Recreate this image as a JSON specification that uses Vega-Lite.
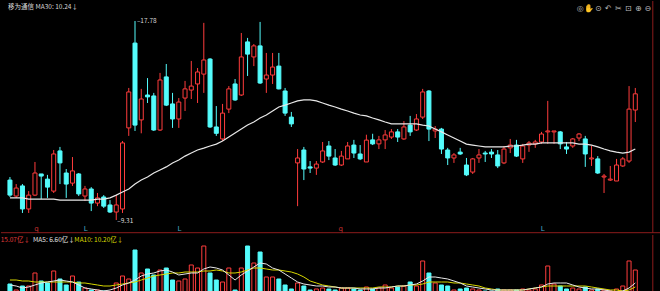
{
 "$schema": "https://vega.github.io/schema/vega-lite/v6.json",
 "background": "#000000",
 "padding": 0,
 "spacing": 0,
 "config": {"view": {"stroke": null}, "text": {"font": "Noto Sans CJK SC"}},
 "datasets": {
  "k": [
   {"i":0,"o":11.01,"h":11.14,"l":10.29,"c":10.37,"v":4.25,"ma":10.25,"m5":3.83,"m10":5.95},
   {"i":1,"o":10.33,"h":10.84,"l":10.25,"c":10.67,"v":1.70,"ma":10.25,"m5":3.40,"m10":5.95},
   {"i":2,"o":10.76,"h":10.84,"l":9.61,"c":9.78,"v":3.40,"ma":10.25,"m5":2.55,"m10":5.53},
   {"i":3,"o":9.78,"h":10.54,"l":9.61,"c":10.37,"v":3.40,"ma":10.20,"m5":2.98,"m10":5.53},
   {"i":4,"o":10.37,"h":11.78,"l":10.33,"c":11.31,"v":8.93,"ma":10.20,"m5":3.83,"m10":5.10},
   {"i":5,"o":11.27,"h":11.27,"l":10.20,"c":11.18,"v":5.53,"ma":10.20,"m5":4.68,"m10":5.10},
   {"i":6,"o":11.05,"h":11.23,"l":10.25,"c":10.71,"v":4.68,"ma":10.20,"m5":5.10,"m10":5.10},
   {"i":7,"o":10.54,"h":12.29,"l":10.46,"c":12.12,"v":9.78,"ma":10.20,"m5":5.53,"m10":5.10},
   {"i":8,"o":12.25,"h":12.42,"l":10.84,"c":11.74,"v":6.38,"ma":10.16,"m5":5.95,"m10":5.10},
   {"i":9,"o":11.31,"h":11.48,"l":10.25,"c":10.84,"v":3.83,"ma":10.16,"m5":5.53,"m10":5.10},
   {"i":10,"o":10.88,"h":11.99,"l":10.76,"c":11.40,"v":7.65,"ma":10.16,"m5":5.10,"m10":5.10},
   {"i":11,"o":11.27,"h":11.31,"l":10.33,"c":10.42,"v":5.10,"ma":10.16,"m5":3.83,"m10":4.68},
   {"i":12,"o":10.33,"h":10.76,"l":10.12,"c":10.63,"v":2.55,"ma":10.16,"m5":2.55,"m10":4.68},
   {"i":13,"o":10.63,"h":10.71,"l":9.69,"c":10.03,"v":1.70,"ma":10.16,"m5":2.13,"m10":4.25},
   {"i":14,"o":10.03,"h":10.46,"l":9.90,"c":10.25,"v":1.70,"ma":10.20,"m5":1.70,"m10":3.83},
   {"i":15,"o":10.29,"h":10.37,"l":9.82,"c":9.90,"v":1.28,"ma":10.20,"m5":1.28,"m10":3.40},
   {"i":16,"o":9.95,"h":10.16,"l":9.61,"c":9.65,"v":0.85,"ma":10.25,"m5":1.70,"m10":3.40},
   {"i":17,"o":9.65,"h":10.37,"l":9.31,"c":9.95,"v":4.68,"ma":10.37,"m5":2.55,"m10":3.83},
   {"i":18,"o":9.78,"h":12.67,"l":9.61,"c":12.59,"v":7.65,"ma":10.50,"m5":3.83,"m10":4.25},
   {"i":19,"o":13.23,"h":14.93,"l":12.89,"c":14.76,"v":6.38,"ma":10.63,"m5":4.68,"m10":4.68},
   {"i":20,"o":16.84,"h":17.78,"l":13.10,"c":13.35,"v":18.70,"ma":10.84,"m5":5.95,"m10":5.10},
   {"i":21,"o":13.57,"h":14.89,"l":13.00,"c":14.46,"v":8.93,"ma":11.01,"m5":7.65,"m10":5.95},
   {"i":22,"o":14.63,"h":15.35,"l":14.29,"c":14.55,"v":10.63,"ma":11.14,"m5":8.50,"m10":6.80},
   {"i":23,"o":14.59,"h":14.72,"l":13.10,"c":13.14,"v":8.08,"ma":11.31,"m5":8.93,"m10":7.65},
   {"i":24,"o":13.14,"h":15.57,"l":13.10,"c":15.27,"v":10.20,"ma":11.44,"m5":9.78,"m10":8.08},
   {"i":25,"o":15.40,"h":15.95,"l":14.16,"c":14.20,"v":11.05,"ma":11.57,"m5":10.20,"m10":8.50},
   {"i":26,"o":14.25,"h":14.72,"l":13.23,"c":13.61,"v":5.95,"ma":11.74,"m5":9.35,"m10":8.93},
   {"i":27,"o":13.61,"h":14.50,"l":13.23,"c":14.33,"v":5.53,"ma":11.86,"m5":8.08,"m10":8.93},
   {"i":28,"o":14.50,"h":15.23,"l":13.95,"c":14.89,"v":6.38,"ma":12.03,"m5":8.50,"m10":9.35},
   {"i":29,"o":14.84,"h":16.08,"l":14.46,"c":15.01,"v":12.33,"ma":12.16,"m5":8.93,"m10":9.35},
   {"i":30,"o":15.10,"h":15.78,"l":14.29,"c":15.61,"v":11.05,"ma":12.29,"m5":8.93,"m10":9.35},
   {"i":31,"o":15.52,"h":17.70,"l":14.72,"c":16.12,"v":20.40,"ma":12.37,"m5":10.63,"m10":9.78},
   {"i":32,"o":16.16,"h":16.20,"l":13.23,"c":13.27,"v":8.93,"ma":12.46,"m5":11.48,"m10":9.78},
   {"i":33,"o":13.27,"h":14.16,"l":12.89,"c":13.00,"v":5.95,"ma":12.54,"m5":11.05,"m10":10.20},
   {"i":34,"o":12.76,"h":14.25,"l":12.67,"c":13.86,"v":5.10,"ma":12.67,"m5":10.20,"m10":9.78},
   {"i":35,"o":14.03,"h":15.01,"l":13.86,"c":14.89,"v":11.05,"ma":12.84,"m5":8.08,"m10":8.93},
   {"i":36,"o":15.10,"h":15.31,"l":14.38,"c":14.42,"v":1.70,"ma":13.01,"m5":5.95,"m10":8.93},
   {"i":37,"o":14.63,"h":17.27,"l":14.59,"c":16.25,"v":11.05,"ma":13.18,"m5":8.08,"m10":9.35},
   {"i":38,"o":16.89,"h":17.06,"l":15.44,"c":16.37,"v":20.40,"ma":13.35,"m5":9.78,"m10":10.20},
   {"i":39,"o":16.25,"h":16.80,"l":15.86,"c":16.72,"v":13.18,"ma":13.48,"m5":11.48,"m10":11.05},
   {"i":40,"o":16.72,"h":17.74,"l":15.10,"c":15.14,"v":17.85,"ma":13.65,"m5":13.18,"m10":11.05},
   {"i":41,"o":15.31,"h":16.42,"l":14.72,"c":15.48,"v":7.23,"ma":13.78,"m5":12.75,"m10":10.63},
   {"i":42,"o":15.48,"h":16.42,"l":15.10,"c":15.82,"v":7.23,"ma":13.95,"m5":11.05,"m10":10.20},
   {"i":43,"o":15.86,"h":16.42,"l":14.87,"c":14.89,"v":6.38,"ma":14.12,"m5":10.20,"m10":10.20},
   {"i":44,"o":14.80,"h":14.93,"l":13.74,"c":13.86,"v":3.83,"ma":14.20,"m5":8.50,"m10":9.78},
   {"i":45,"o":13.69,"h":13.91,"l":13.27,"c":13.40,"v":2.13,"ma":14.29,"m5":6.80,"m10":9.35},
   {"i":46,"o":11.74,"h":12.33,"l":9.90,"c":11.95,"v":4.68,"ma":14.38,"m5":5.10,"m10":8.50},
   {"i":47,"o":12.29,"h":12.42,"l":11.01,"c":11.48,"v":3.40,"ma":14.42,"m5":4.25,"m10":7.23},
   {"i":48,"o":11.57,"h":11.82,"l":11.31,"c":11.52,"v":1.70,"ma":14.42,"m5":3.83,"m10":5.53},
   {"i":49,"o":11.52,"h":11.82,"l":11.23,"c":11.69,"v":2.13,"ma":14.38,"m5":3.40,"m10":4.68},
   {"i":50,"o":11.78,"h":12.63,"l":11.74,"c":12.25,"v":2.55,"ma":14.29,"m5":3.40,"m10":3.83},
   {"i":51,"o":12.46,"h":12.67,"l":11.86,"c":12.03,"v":2.13,"ma":14.20,"m5":2.98,"m10":3.40},
   {"i":52,"o":11.95,"h":12.33,"l":11.61,"c":11.65,"v":1.70,"ma":14.12,"m5":2.98,"m10":2.98},
   {"i":53,"o":11.65,"h":12.25,"l":11.61,"c":12.03,"v":2.55,"ma":14.03,"m5":2.55,"m10":2.55},
   {"i":54,"o":11.91,"h":12.63,"l":11.91,"c":12.46,"v":2.55,"ma":13.95,"m5":2.55,"m10":2.55},
   {"i":55,"o":12.50,"h":12.72,"l":11.95,"c":12.16,"v":2.13,"ma":13.86,"m5":2.55,"m10":2.55},
   {"i":56,"o":12.12,"h":12.50,"l":11.86,"c":11.91,"v":1.70,"ma":13.78,"m5":2.13,"m10":2.55},
   {"i":57,"o":11.78,"h":12.94,"l":11.78,"c":12.71,"v":2.98,"ma":13.74,"m5":2.13,"m10":2.55},
   {"i":58,"o":12.72,"h":12.98,"l":12.50,"c":12.55,"v":2.13,"ma":13.65,"m5":2.13,"m10":2.55},
   {"i":59,"o":12.55,"h":12.89,"l":12.33,"c":12.72,"v":2.55,"ma":13.57,"m5":2.55,"m10":2.98},
   {"i":60,"o":12.72,"h":13.14,"l":12.33,"c":12.93,"v":3.83,"ma":13.48,"m5":2.55,"m10":2.98},
   {"i":61,"o":12.84,"h":13.18,"l":12.76,"c":13.06,"v":2.55,"ma":13.40,"m5":2.98,"m10":2.98},
   {"i":62,"o":13.06,"h":13.18,"l":12.63,"c":12.84,"v":2.98,"ma":13.40,"m5":3.40,"m10":3.40},
   {"i":63,"o":12.76,"h":13.52,"l":12.72,"c":13.27,"v":3.40,"ma":13.40,"m5":3.40,"m10":3.40},
   {"i":64,"o":13.35,"h":13.74,"l":12.89,"c":13.06,"v":5.10,"ma":13.40,"m5":3.83,"m10":3.83},
   {"i":65,"o":13.14,"h":13.82,"l":13.10,"c":13.61,"v":3.40,"ma":13.40,"m5":4.25,"m10":3.83},
   {"i":66,"o":13.69,"h":14.89,"l":13.61,"c":14.76,"v":14.03,"ma":13.35,"m5":5.53,"m10":4.25},
   {"i":67,"o":14.80,"h":14.84,"l":12.67,"c":13.18,"v":8.93,"ma":13.31,"m5":7.23,"m10":5.10},
   {"i":68,"o":13.10,"h":13.31,"l":12.80,"c":13.18,"v":4.68,"ma":13.18,"m5":7.23,"m10":5.10},
   {"i":69,"o":13.18,"h":13.23,"l":12.12,"c":12.33,"v":3.83,"ma":13.06,"m5":6.80,"m10":5.10},
   {"i":70,"o":12.29,"h":12.38,"l":11.65,"c":11.95,"v":3.40,"ma":12.93,"m5":6.38,"m10":5.10},
   {"i":71,"o":11.95,"h":12.16,"l":11.74,"c":12.08,"v":1.70,"ma":12.80,"m5":5.53,"m10":4.68},
   {"i":72,"o":12.20,"h":12.38,"l":12.08,"c":12.12,"v":2.13,"ma":12.67,"m5":4.68,"m10":4.68},
   {"i":73,"o":11.65,"h":11.95,"l":11.18,"c":11.23,"v":2.55,"ma":12.54,"m5":3.40,"m10":4.25},
   {"i":74,"o":11.35,"h":11.95,"l":11.27,"c":11.91,"v":2.13,"ma":12.50,"m5":2.98,"m10":3.83},
   {"i":75,"o":11.95,"h":12.33,"l":11.74,"c":12.08,"v":1.70,"ma":12.46,"m5":2.55,"m10":3.40},
   {"i":76,"o":12.16,"h":12.25,"l":11.78,"c":12.12,"v":1.28,"ma":12.42,"m5":2.13,"m10":2.55},
   {"i":77,"o":12.20,"h":12.33,"l":11.95,"c":12.12,"v":1.28,"ma":12.42,"m5":1.70,"m10":2.13},
   {"i":78,"o":12.08,"h":12.29,"l":11.52,"c":11.61,"v":2.13,"ma":12.42,"m5":1.70,"m10":1.70},
   {"i":79,"o":11.74,"h":12.46,"l":11.69,"c":12.33,"v":1.70,"ma":12.42,"m5":1.70,"m10":1.70},
   {"i":80,"o":12.38,"h":12.76,"l":12.16,"c":12.50,"v":1.70,"ma":12.46,"m5":1.70,"m10":1.70},
   {"i":81,"o":12.50,"h":12.72,"l":11.99,"c":12.03,"v":1.70,"ma":12.46,"m5":1.70,"m10":1.70},
   {"i":82,"o":11.91,"h":12.55,"l":11.74,"c":12.46,"v":2.13,"ma":12.50,"m5":1.70,"m10":1.70},
   {"i":83,"o":12.50,"h":12.67,"l":12.21,"c":12.59,"v":1.70,"ma":12.54,"m5":2.13,"m10":2.13},
   {"i":84,"o":12.55,"h":12.72,"l":12.38,"c":12.63,"v":2.13,"ma":12.54,"m5":2.55,"m10":2.55},
   {"i":85,"o":12.63,"h":13.06,"l":12.55,"c":12.97,"v":3.83,"ma":12.59,"m5":2.98,"m10":2.98},
   {"i":86,"o":13.06,"h":14.38,"l":12.55,"c":13.10,"v":11.90,"ma":12.59,"m5":4.25,"m10":3.40},
   {"i":87,"o":13.06,"h":13.10,"l":12.55,"c":13.10,"v":4.25,"ma":12.59,"m5":4.68,"m10":3.40},
   {"i":88,"o":13.06,"h":13.10,"l":12.33,"c":12.55,"v":3.40,"ma":12.59,"m5":4.68,"m10":3.40},
   {"i":89,"o":12.42,"h":12.63,"l":12.12,"c":12.33,"v":2.13,"ma":12.59,"m5":4.68,"m10":3.40},
   {"i":90,"o":12.46,"h":12.80,"l":12.38,"c":12.76,"v":2.55,"ma":12.59,"m5":3.83,"m10":3.40},
   {"i":91,"o":12.80,"h":13.01,"l":12.67,"c":12.97,"v":2.13,"ma":12.54,"m5":2.98,"m10":3.40},
   {"i":92,"o":12.76,"h":12.89,"l":11.57,"c":12.12,"v":2.98,"ma":12.54,"m5":2.55,"m10":3.40},
   {"i":93,"o":11.91,"h":12.46,"l":11.61,"c":11.95,"v":1.70,"ma":12.50,"m5":2.13,"m10":2.98},
   {"i":94,"o":11.91,"h":12.03,"l":11.27,"c":11.31,"v":2.13,"ma":12.42,"m5":2.13,"m10":2.55},
   {"i":95,"o":11.14,"h":11.27,"l":10.46,"c":11.18,"v":1.70,"ma":12.33,"m5":1.70,"m10":2.13},
   {"i":96,"o":11.01,"h":11.61,"l":10.97,"c":11.05,"v":1.28,"ma":12.25,"m5":1.28,"m10":1.70},
   {"i":97,"o":10.97,"h":11.91,"l":10.97,"c":11.65,"v":2.13,"ma":12.20,"m5":0.85,"m10":1.70},
   {"i":98,"o":11.61,"h":11.99,"l":11.57,"c":11.91,"v":3.40,"ma":12.16,"m5":1.28,"m10":1.28},
   {"i":99,"o":11.82,"h":15.01,"l":11.74,"c":14.03,"v":14.03,"ma":12.20,"m5":2.55,"m10":1.70},
   {"i":100,"o":13.99,"h":14.93,"l":13.48,"c":14.68,"v":10.20,"ma":12.33,"m5":4.68,"m10":2.98}
  ]
 },
 "vconcat": [
  {
   "width": 660,
   "height": 232,
   "layer": [
    {
     "data": {"name": "k"},
     "mark": {"type": "rule", "strokeWidth": 1},
     "encoding": {
      "x": {"field": "i", "type": "quantitative", "scale": {"domain": [-0.63, 103.31]}, "axis": null},
      "y": {"field": "l", "type": "quantitative", "scale": {"domain": [8.757, 18.631]}, "axis": null},
      "y2": {"field": "h"},
      "color": {"condition": {"test": "datum.c >= datum.o", "value": "#ff3c3c"}, "value": "#54fcfc"}
     }
    },
    {
     "data": {"name": "k"},
     "mark": {"type": "bar", "width": 4, "strokeWidth": 1},
     "encoding": {
      "x": {"field": "i", "type": "quantitative", "scale": {"domain": [-0.63, 103.31]}, "axis": null},
      "y": {"field": "o", "type": "quantitative", "scale": {"domain": [8.757, 18.631]}, "axis": null},
      "y2": {"field": "c"},
      "fill": {"condition": {"test": "datum.c >= datum.o", "value": "#000000"}, "value": "#54fcfc"},
      "stroke": {"condition": {"test": "datum.c >= datum.o", "value": "#ff3c3c"}, "value": "#54fcfc"}
     }
    },
    {
     "data": {"name": "k"},
     "mark": {"type": "line", "color": "#e8e8e8", "strokeWidth": 1.2},
     "encoding": {
      "x": {"field": "i", "type": "quantitative", "scale": {"domain": [-0.63, 103.31]}, "axis": null},
      "y": {"field": "ma", "type": "quantitative", "scale": {"domain": [8.757, 18.631]}, "axis": null}
     }
    },
    {
     "data": {"values": [{"p": 8.77}]},
     "mark": {"type": "rule", "color": "#8c1c1c", "strokeWidth": 1},
     "encoding": {
      "y": {"field": "p", "type": "quantitative", "scale": {"domain": [8.757, 18.631]}, "axis": null}
     }
    },
    {
     "data": {"values": [{"i": 102.8}]},
     "mark": {"type": "rule", "color": "#8c1c1c", "strokeWidth": 1},
     "encoding": {
      "x": {"field": "i", "type": "quantitative", "scale": {"domain": [-0.63, 103.31]}, "axis": null}
     }
    },
    {
     "data": {"values": [
      {"i": -0.31, "p": 18.38, "t": "移为通信 MA30: 10.24↓"},
      {"i": 20.3, "p": 17.78, "t": "–17.78"},
      {"i": 17.15, "p": 9.27, "t": "–9.31"}
     ]},
     "mark": {"type": "text", "align": "left", "baseline": "middle", "fontSize": 6.5, "color": "#d8d8d8"},
     "encoding": {
      "x": {"field": "i", "type": "quantitative", "scale": {"domain": [-0.63, 103.31]}, "axis": null},
      "y": {"field": "p", "type": "quantitative", "scale": {"domain": [8.757, 18.631]}, "axis": null},
      "text": {"field": "t"}
     }
    },
    {
     "data": {"values": [
      {"i": 4.25, "p": 8.93, "t": "q", "red": true},
      {"i": 12.1, "p": 8.93, "t": "L", "red": false},
      {"i": 27.1, "p": 8.93, "t": "L", "red": false},
      {"i": 52.9, "p": 8.93, "t": "q", "red": true},
      {"i": 85.2, "p": 8.93, "t": "L", "red": false}
     ]},
     "mark": {"type": "text", "align": "center", "baseline": "middle", "fontSize": 7, "font": "DejaVu Sans"},
     "encoding": {
      "x": {"field": "i", "type": "quantitative", "scale": {"domain": [-0.63, 103.31]}, "axis": null},
      "y": {"field": "p", "type": "quantitative", "scale": {"domain": [8.757, 18.631]}, "axis": null},
      "text": {"field": "t"},
      "color": {"condition": {"test": "datum.red", "value": "#c83232"}, "value": "#4aa8c8"}
     }
    },
    {
     "data": {"values": [
      {"i": 91.2, "p": 18.29, "t": "◎"},
      {"i": 92.6, "p": 18.29, "t": "✋"},
      {"i": 94.1, "p": 18.29, "t": "⊙"},
      {"i": 95.7, "p": 18.29, "t": "↶"},
      {"i": 97.3, "p": 18.29, "t": "✂"},
      {"i": 98.9, "p": 18.29, "t": "⊡"},
      {"i": 100.5, "p": 18.29, "t": "⊕"},
      {"i": 102.0, "p": 18.29, "t": "⊖"}
     ]},
     "mark": {"type": "text", "align": "center", "baseline": "middle", "fontSize": 8, "font": "DejaVu Sans", "color": "#bbbbbb"},
     "encoding": {
      "x": {"field": "i", "type": "quantitative", "scale": {"domain": [-0.63, 103.31]}, "axis": null},
      "y": {"field": "p", "type": "quantitative", "scale": {"domain": [8.757, 18.631]}, "axis": null},
      "text": {"field": "t"}
     }
    }
   ]
  },
  {
   "width": 660,
   "height": 59,
   "layer": [
    {
     "data": {"name": "k"},
     "mark": {"type": "bar", "width": 4, "strokeWidth": 1},
     "encoding": {
      "x": {"field": "i", "type": "quantitative", "scale": {"domain": [-0.63, 103.31]}, "axis": null},
      "y": {"field": "v", "type": "quantitative", "scale": {"domain": [0, 25.075]}, "axis": null},
      "fill": {"condition": {"test": "datum.c >= datum.o", "value": "#000000"}, "value": "#54fcfc"},
      "stroke": {"condition": {"test": "datum.c >= datum.o", "value": "#ff3c3c"}, "value": "#54fcfc"}
     }
    },
    {
     "data": {"name": "k"},
     "mark": {"type": "line", "color": "#d8d800", "strokeWidth": 1},
     "encoding": {
      "x": {"field": "i", "type": "quantitative", "scale": {"domain": [-0.63, 103.31]}, "axis": null},
      "y": {"field": "m10", "type": "quantitative", "scale": {"domain": [0, 25.075]}, "axis": null}
     }
    },
    {
     "data": {"name": "k"},
     "mark": {"type": "line", "color": "#e8e8e8", "strokeWidth": 1},
     "encoding": {
      "x": {"field": "i", "type": "quantitative", "scale": {"domain": [-0.63, 103.31]}, "axis": null},
      "y": {"field": "m5", "type": "quantitative", "scale": {"domain": [0, 25.075]}, "axis": null}
     }
    },
    {
     "data": {"values": [{"i": 102.8}]},
     "mark": {"type": "rule", "color": "#8c1c1c", "strokeWidth": 1},
     "encoding": {
      "x": {"field": "i", "type": "quantitative", "scale": {"domain": [-0.63, 103.31]}, "axis": null}
     }
    },
    {
     "data": {"values": [
      {"i": 3.2, "v": 22.95, "t": "15.07亿↓"}
     ]},
     "mark": {"type": "text", "align": "right", "baseline": "middle", "fontSize": 6.5, "color": "#e03c3c", "clip": true},
     "encoding": {
      "x": {"field": "i", "type": "quantitative", "scale": {"domain": [-0.63, 103.31]}, "axis": null},
      "y": {"field": "v", "type": "quantitative", "scale": {"domain": [0, 25.075]}, "axis": null},
      "text": {"field": "t"}
     }
    },
    {
     "data": {"values": [
      {"i": 3.7, "v": 22.95, "t": "MA5: 6.60亿↓", "k": "b"},
      {"i": 10.3, "v": 22.95, "t": "MA10: 10.20亿↓", "k": "c"}
     ]},
     "mark": {"type": "text", "align": "left", "baseline": "middle", "fontSize": 6.5},
     "encoding": {
      "x": {"field": "i", "type": "quantitative", "scale": {"domain": [-0.63, 103.31]}, "axis": null},
      "y": {"field": "v", "type": "quantitative", "scale": {"domain": [0, 25.075]}, "axis": null},
      "text": {"field": "t"},
      "color": {"field": "k", "type": "nominal", "scale": {"domain": ["b", "c"], "range": ["#e0e0e0", "#d8d800"]}, "legend": null}
     }
    }
   ]
  }
 ]
}
